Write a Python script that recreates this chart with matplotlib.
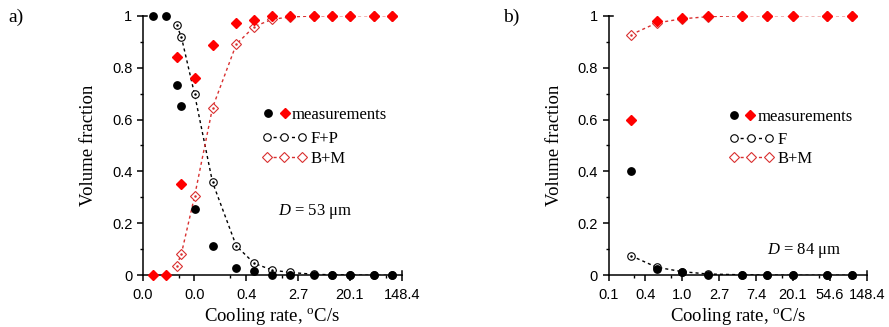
import numpy as np
import matplotlib
matplotlib.use("Agg")
import matplotlib.pyplot as plt
from matplotlib.lines import Line2D
from matplotlib.legend_handler import HandlerTuple, HandlerLine2D
from matplotlib.ticker import FixedLocator, FuncFormatter, MultipleLocator

plt.rcParams['font.family'] = ['Liberation Serif', 'DejaVu Serif']
plt.rcParams['mathtext.fontset'] = 'custom'
plt.rcParams['mathtext.rm'] = 'Liberation Serif'
plt.rcParams['mathtext.it'] = 'Liberation Serif:italic'

# ---------------- data: panel a (D = 53 um) ----------------
a_rate = [0.01, 1/60, 0.025, 0.03, 0.05, 0.1, 0.25, 0.5, 1, 2, 5, 10, 20, 50, 100]
a_meas_fp = [1.0, 1.0, 0.733, 0.652, 0.254, 0.113, 0.030, 0.015, 0.003, 0, 0, 0, 0, 0, 0]
a_meas_bm = [0.0, 0.0, 0.840, 0.350, 0.761, 0.886, 0.973, 0.985, 0.998, 1.0, 1.0, 1.0, 1.0, 1.0, 1.0]
a_model_rate = [0.025, 0.03, 0.05, 0.1, 0.25, 0.5, 1, 2, 5, 10, 20, 50, 100]
a_model_fp = [0.963, 0.918, 0.697, 0.358, 0.113, 0.046, 0.020, 0.011, 0.004, 0.002, 0.001, 0, 0]
a_model_bm = [0.037, 0.083, 0.305, 0.646, 0.890, 0.958, 0.986, 0.995, 0.999, 1.0, 1.0, 1.0, 1.0]

# ---------------- data: panel b (D = 84 um) ----------------
b_rate = [0.25, 0.5, 1, 2, 5, 10, 20, 50, 100]
b_meas_f = [0.40, 0.025, 0.011, 0.003, 0, 0, 0, 0, 0]
b_meas_bm = [0.60, 0.978, 0.990, 1.0, 1.0, 1.0, 1.0, 1.0, 1.0]
b_model_f = [0.075, 0.031, 0.014, 0.005, 0.002, 0.001, 0, 0, 0]
b_model_bm = [0.927, 0.972, 0.988, 0.996, 1.0, 1.0, 1.0, 1.0, 1.0]

a_major_exp = [-5, -3, -1, 1, 3, 5]
a_minor_exp = [-5, -3, -1, 1, 3]
a_minor_mult = 4
b_major_exp = [-2, -1, 0, 1, 2, 3, 4, 5]
b_minor_exp = [-2, -1, 0, 1, 2, 3, 4]
b_minor_mult = 2

RED = '#ff0000'
RED_M = '#d93030'

fig = plt.figure(figsize=(8.89, 3.27), dpi=100)
axa = fig.add_axes([0.1605, 0.1581, 0.2914, 0.794])
axb = fig.add_axes([0.6845, 0.1581, 0.2905, 0.794])


def panel(ax, rate, meas1, meas2, mrate, mod1, mod2, major_exp, minor_exp, mult,
          xlim_exp, label1, dtext, dpos, leg1_pos, leg2_pos):
    # model curves
    ax.plot(mrate, mod1, ls=(0, (2.2, 2.2)), color='black', lw=1.0, zorder=2)
    ax.plot(mrate, mod1, ls='none', marker='o', ms=5.4, mfc='white', mec='black',
            mew=0.8, zorder=3, clip_on=False)
    ax.plot(mrate, mod1, ls='none', marker='.', ms=1.6, color='black', zorder=3.1,
            clip_on=False)
    ax.plot(mrate, mod2, ls=(0, (2.2, 2.2)), color=RED_M, lw=1.0, zorder=2)
    ax.plot(mrate, mod2, ls='none', marker='D', ms=4.8, mfc='white', mec=RED_M,
            mew=0.8, zorder=3, clip_on=False)
    ax.plot(mrate, mod2, ls='none', marker='.', ms=1.6, color=RED_M, zorder=3.1,
            clip_on=False)
    # measurements
    ax.plot(rate, meas1, ls='none', marker='o', ms=5.3, color='black', zorder=5,
            clip_on=False)
    ax.plot(rate, meas2, ls='none', marker='D', ms=5.4, color=RED, zorder=5,
            clip_on=False)

    ax.set_xscale('log', base=np.e)
    ax.set_xlim(np.exp(xlim_exp[0]), np.exp(xlim_exp[1]))
    ax.set_ylim(0, 1)
    ax.xaxis.set_major_locator(FixedLocator([np.exp(e) for e in major_exp]))
    ax.xaxis.set_minor_locator(FixedLocator([mult * np.exp(e) for e in minor_exp]))
    ax.xaxis.set_major_formatter(FuncFormatter(lambda v, p: f"{v:.1f}"))
    ax.xaxis.set_minor_formatter(FuncFormatter(lambda v, p: ""))
    ax.yaxis.set_major_locator(MultipleLocator(0.2))
    ax.yaxis.set_minor_locator(MultipleLocator(0.1))
    ax.yaxis.set_major_formatter(FuncFormatter(lambda v, p: "0" if abs(v) < 1e-9 else ("1" if abs(v - 1) < 1e-9 else f"{v:.1f}")))

    for s in ['left', 'bottom']:
        ax.spines[s].set_linewidth(1.1)
    ax.spines['right'].set_bounds(0, 0.016)
    ax.spines['right'].set_linewidth(1.1)
    ax.spines['top'].set_bounds(np.exp(xlim_exp[0]),
                                np.exp(xlim_exp[0] + 0.016 * (xlim_exp[1] - xlim_exp[0])))
    ax.spines['top'].set_linewidth(1.1)

    ax.tick_params(which='major', direction='out', length=4, width=1.1,
                   labelsize=10.5, pad=3.5, top=False, right=False)
    ax.tick_params(axis='x', which='major', pad=5.0)
    ax.tick_params(which='minor', direction='out', length=2.5, width=1.0,
                   top=False, right=False)
    for lab in ax.get_xticklabels() + ax.get_yticklabels():
        lab.set_fontfamily('Liberation Sans')

    ax.set_ylabel('Volume fraction', fontsize=13.5)
    ax.set_xlabel('Cooling rate, $^{\\mathrm{o}}$C/s', fontsize=13.5)
    ax.yaxis.set_label_coords(-0.176, 0.5)
    ax.xaxis.set_label_coords(0.5, -0.118)

    ax.text(dpos[0], dpos[1], dtext, transform=ax.transAxes, fontsize=12,
            ha='left', va='center')

    # legend row 1
    h_c = Line2D([], [], ls='none', marker='o', ms=5.3, color='black')
    h_d = Line2D([], [], ls='none', marker='D', ms=5.4, color=RED)
    leg1 = ax.legend([(h_c, h_d)], ['measurements'],
                     handler_map={tuple: HandlerTuple(ndivide=None, pad=0.4)},
                     numpoints=1, handlelength=1.6, handletextpad=0.12,
                     loc='center left', bbox_to_anchor=leg1_pos, borderaxespad=0,
                     borderpad=0, frameon=False, fontsize=12)
    ax.add_artist(leg1)
    # legend rows 2-3
    h_fp = Line2D([], [], ls=(0, (2.2, 2.2)), lw=1.0, color='black', marker='o',
                  ms=5.4, mfc='white', mec='black', mew=0.8)
    h_bm = Line2D([], [], ls=(0, (2.2, 2.2)), lw=1.0, color=RED_M, marker='D',
                  ms=4.8, mfc='white', mec=RED_M, mew=0.8)
    ax.legend([h_fp, h_bm], [label1, 'B+M'],
              handler_map={h_fp: HandlerLine2D(numpoints=3), h_bm: HandlerLine2D(numpoints=3)},
              handlelength=2.7, handletextpad=0.24, labelspacing=0.2,
              loc='center left', bbox_to_anchor=leg2_pos, borderaxespad=0,
              borderpad=0, frameon=False, fontsize=12)


panel(axa, a_rate, a_meas_fp, a_meas_bm, a_model_rate, a_model_fp, a_model_bm,
      a_major_exp, a_minor_exp, a_minor_mult, (-5, 5), 'F+P',
      '$D$ = 53 μm', (0.522, 0.244), (0.4645, 0.6175), (0.4595, 0.4865))
panel(axb, b_rate, b_meas_f, b_meas_bm, b_rate, b_model_f, b_model_bm,
      b_major_exp, b_minor_exp, b_minor_mult, (-2, 5), 'F',
      '$D$ = 84 μm', (0.612, 0.095), (0.465, 0.6115), (0.4665, 0.485))

fig.text(0.009, 0.948, 'a)', fontsize=14, ha='left', va='center')
fig.text(0.566, 0.948, 'b)', fontsize=14, ha='left', va='center')

fig.savefig('out.png', dpi=100)
